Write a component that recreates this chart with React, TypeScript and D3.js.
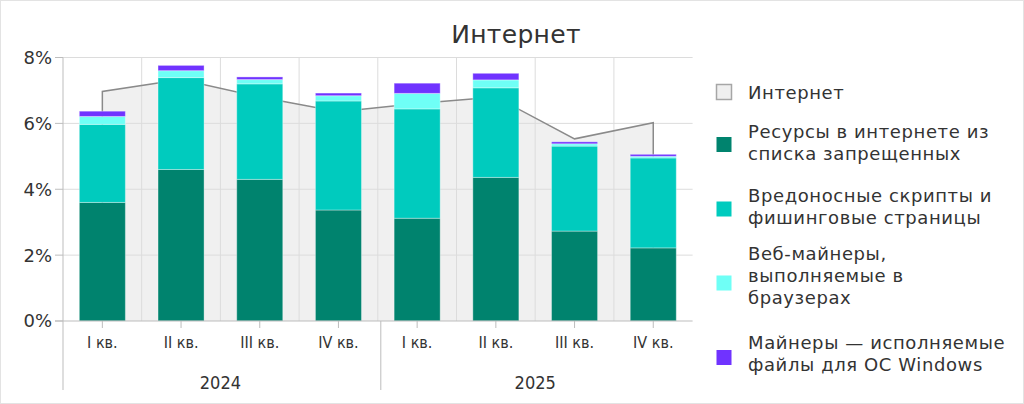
import React from "react";
import * as d3 from "d3";

const quarters = ["I кв.", "II кв.", "III кв.", "IV кв.", "I кв.", "II кв.", "III кв.", "IV кв."];
const years = ["2024", "2025"];
const internet = [6.97, 7.33, 6.8, 6.35, 6.6, 6.8, 5.53, 6.02];
const blocked = [3.6, 4.6, 4.3, 3.37, 3.12, 4.36, 2.73, 2.22];
const scripts = [2.37, 2.79, 2.9, 3.31, 3.32, 2.72, 2.58, 2.73];
const webMiners = [0.24, 0.21, 0.13, 0.16, 0.47, 0.24, 0.07, 0.05];
const winMiners = [0.16, 0.16, 0.08, 0.08, 0.31, 0.2, 0.06, 0.06];
const yTicks = [0, 2, 4, 6, 8];

const seriesNames = [
  ["Ресурсы в интернете из", "списка запрещенных"],
  ["Вредоносные скрипты и", "фишинговые страницы"],
  ["Веб-майнеры,", "выполняемые в", "браузерах"],
  ["Майнеры — исполняемые", "файлы для ОС Windows"],
];
const areaName = "Интернет";
const colors = ["#00836E", "#00CBBE", "#6FFFF6", "#7033FF"];

const FONT = "'DejaVu Sans', 'Noto Sans', sans-serif";
const NARROW = "'DejaVu Sans Condensed', 'Liberation Sans Narrow', 'DejaVu Sans', sans-serif";
const TEXT = "#333";

export default function App() {
  const W = 1024, H = 404;
  const left = 63, right = 692.6, top = 57.5, bottom = 321;
  const idx = quarters.map((_, i) => i);
  const x = d3.scaleBand<number>().domain(idx).range([left, right]).padding(0);
  const y = d3.scaleLinear().domain([0, 8]).range([bottom, top]);
  const barW = x.bandwidth() * 0.585;
  const cx = (i: number) => (x(i) as number) + x.bandwidth() / 2;

  const rows = idx.map((i) => ({
    i,
    blocked: blocked[i],
    scripts: scripts[i],
    webMiners: webMiners[i],
    winMiners: winMiners[i],
  }));
  const keys = ["blocked", "scripts", "webMiners", "winMiners"];
  const stack = d3.stack<any>().keys(keys)(rows);

  const areaPts: [number, number][] = [
    [cx(0), 0],
    ...internet.map((v, i) => [cx(i), v] as [number, number]),
    [cx(internet.length - 1), 0],
  ];
  const line = d3
    .line<[number, number]>()
    .x((d) => d[0])
    .y((d) => y(d[1]));
  const areaPath = line(areaPts) + "Z";
  const linePath = line(areaPts);

  const legendX = 716, legendTextX = 748, lh = 22;
  const legendItems = [
    { lines: [areaName], textCenter: 93, swCenter: 92, fill: "#EFEFEF", stroke: "#A6A6A6" },
    { lines: seriesNames[0], textCenter: 142.5, swCenter: 144.5, fill: colors[0], stroke: "none" },
    { lines: seriesNames[1], textCenter: 207, swCenter: 209, fill: colors[1], stroke: "none" },
    { lines: seriesNames[2], textCenter: 276, swCenter: 283, fill: colors[2], stroke: "none" },
    { lines: seriesNames[3], textCenter: 354, swCenter: 357.5, fill: colors[3], stroke: "none" },
  ];

  const yearMid = (k: number) => (cx(k * 4) + cx(k * 4 + 3)) / 2;

  return (
    <svg
      width={W}
      height={H}
      style={{ position: "absolute", left: 0, top: 0, background: "#fff" }}
      fontFamily={FONT}
    >
      <rect x={0.5} y={0.5} width={W - 1} height={H - 1} fill="#fff" stroke="#E3E3E3" />
      <text x={516} y={43} textAnchor="middle" fontSize={25} letterSpacing={0.3} fill={TEXT} fontFamily={FONT}>
        Интернет
      </text>

      {/* area */}
      <path d={areaPath} fill="#F0F0F0" stroke="none" />

      {/* grid */}
      {yTicks.filter((t) => t > 0).map((t) => (
        <line key={"h" + t} x1={left} x2={right} y1={y(t)} y2={y(t)} stroke="#DCDCDC" strokeWidth={1} />
      ))}
      {idx.slice(1).map((i) => (
        <line key={"v" + i} x1={x(i)} x2={x(i)} y1={top} y2={bottom} stroke="#DCDCDC" strokeWidth={1} />
      ))}

      <path d={linePath as string} fill="none" stroke="#8A8A8A" strokeWidth={1.5} />

      {/* bars */}
      {stack.map((s, si) => (
        <g key={si} fill={colors[si]}>
          {s.map((d, i) => (
            <rect
              key={i}
              x={cx(i) - barW / 2}
              width={barW}
              y={y(d[1])}
              height={Math.max(0, y(d[0]) - y(d[1]))}
              stroke="rgba(255,255,255,0.35)"
              strokeWidth={1}
            />
          ))}
        </g>
      ))}

      {/* y axis */}
      <line x1={left} x2={left} y1={top} y2={390} stroke="#BDBDBD" strokeWidth={1} />
      {yTicks.map((t) => (
        <g key={"yt" + t}>
          <line x1={left - 8} x2={left} y1={y(t)} y2={y(t)} stroke="#BDBDBD" />
          <text x={52} y={y(t)} dy="0.36em" textAnchor="end" fontSize={18} fill={TEXT} fontFamily={FONT}>
            {t}%
          </text>
        </g>
      ))}

      {/* x axis */}
      <line x1={left - 8} x2={right} y1={bottom} y2={bottom} stroke="#BDBDBD" strokeWidth={1} />
      {idx.map((i) => (
        <g key={"xt" + i}>
          <line x1={cx(i)} x2={cx(i)} y1={bottom} y2={bottom + 7} stroke="#BDBDBD" />
          <text x={cx(i)} y={348} textAnchor="middle" fontSize={16} fill={TEXT} fontFamily={NARROW}>
            {quarters[i]}
          </text>
        </g>
      ))}
      <line x1={(x(4) as number) + 3} x2={(x(4) as number) + 3} y1={bottom} y2={390} stroke="#BDBDBD" />
      {years.map((yr, k) => (
        <text key={yr} x={yearMid(k)} y={389} textAnchor="middle" fontSize={18} fill={TEXT} fontFamily={NARROW}>
          {yr}
        </text>
      ))}

      {/* legend */}
      {legendItems.map((it, k) => {
        const n = it.lines.length;
        const firstCenter = it.textCenter - ((n - 1) * lh) / 2;
        return (
          <g key={"lg" + k}>
            <rect
              x={legendX + 0.5}
              y={it.swCenter - 7.5}
              width={15}
              height={15}
              fill={it.fill}
              stroke={it.stroke}
              strokeWidth={it.stroke === "none" ? 0 : 1.5}
            />
            {it.lines.map((ln, j) => (
              <text key={j} x={legendTextX} y={firstCenter + j * lh} dy="0.35em" fontSize={18} letterSpacing={0.6} fill={TEXT} fontFamily={FONT}>
                {ln}
              </text>
            ))}
          </g>
        );
      })}
    </svg>
  );
}
